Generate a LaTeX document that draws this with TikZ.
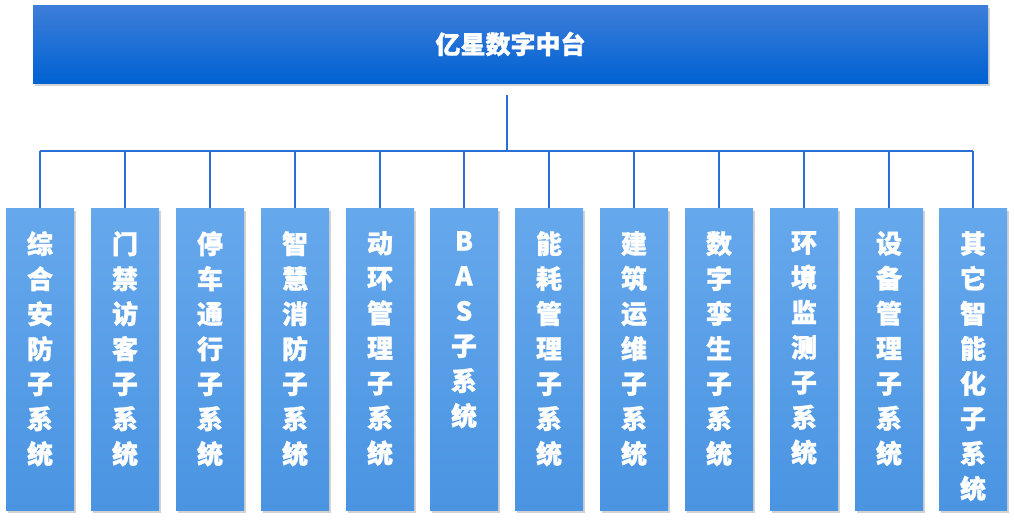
\documentclass[tikz,border=0pt]{standalone}
\usepackage{fontspec}
\setmainfont[FakeBold=1.2]{Noto Sans CJK SC}
\usetikzlibrary{shadows}
\definecolor{topA}{HTML}{3E7EDA}
\definecolor{topB}{HTML}{0062D2}
\definecolor{subA}{HTML}{66A8EC}
\definecolor{subB}{HTML}{4A94E2}
\definecolor{wire}{HTML}{2B6FD6}
\begin{document}
\begin{tikzpicture}[x=1pt,y=-1pt,
  topbox/.style={rectangle,minimum width=955pt,minimum height=78pt,top color=topA,bottom color=topB,draw=none,
    drop shadow={shadow xshift=2pt,shadow yshift=-3pt,opacity=0.35},text=white,font=\fontsize{25}{28}\selectfont\bfseries},
  subbox/.style={rectangle,minimum width=68pt,minimum height=302pt,top color=subA,bottom color=subB,draw=none,
    drop shadow={shadow xshift=2pt,shadow yshift=-3pt,opacity=0.35},anchor=north,inner sep=0pt},
  subtext/.style={anchor=north,text=white,align=center,font=\fontsize{26}{35}\selectfont\bfseries,inner sep=0pt},
  wireline/.style={draw=wire,line width=1.3pt}]
\useasboundingbox (0,0) rectangle (1014,520);
\node[topbox] (top) at (510.5,44) {亿星数字中台};
\coordinate (hub) at (507,151);
\draw[wireline] (507,95) -- (hub);
\foreach \i/\x/\t in {1/40/综\\合\\安\\防\\子\\系\\统,
  2/125/门\\禁\\访\\客\\子\\系\\统,
  3/210/停\\车\\通\\行\\子\\系\\统,
  4/295/智\\慧\\消\\防\\子\\系\\统,
  5/380/动\\环\\管\\理\\子\\系\\统,
  6/464/B\\A\\S\\子\\系\\统,
  7/549/能\\耗\\管\\理\\子\\系\\统,
  8/634/建\\筑\\运\\维\\子\\系\\统,
  9/719/数\\字\\孪\\生\\子\\系\\统,
  10/804/环\\境\\监\\测\\子\\系\\统,
  11/889/设\\备\\管\\理\\子\\系\\统,
  12/973/其\\它\\智\\能\\化\\子\\系\\统}{
  \node[subbox] (s\i) at (\x,208) {};
  \node[subtext] (t\i) at (\x,231) {\t};
  \coordinate (b\i) at (\x,151);
  \draw[wireline] (b\i) -- (s\i.north);
}
\draw[wireline] (b1) -- (b12);
\end{tikzpicture}
\end{document}
